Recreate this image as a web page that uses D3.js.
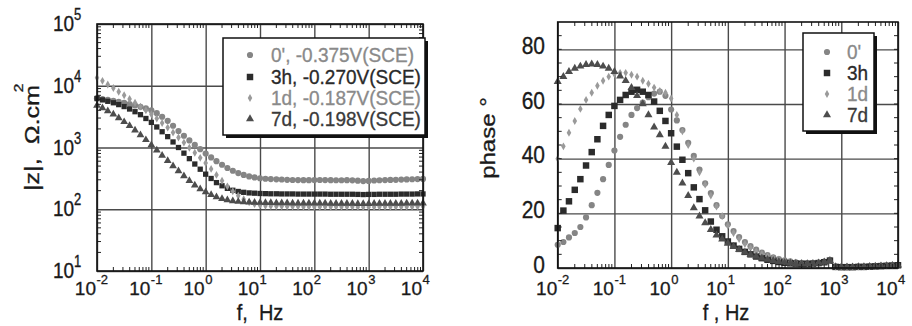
<!DOCTYPE html>
<html>
<head>
<meta charset="utf-8">
<script src="https://cdn.jsdelivr.net/npm/d3@7"></script>
<style>
  body { margin: 0; background: #fff; }
  svg { font-family: "Liberation Sans", Arial, sans-serif; }
</style>
</head>
<body>
<svg id="chart" width="912" height="326"></svg>
<script>
// frequencies, Hz (10 per decade)
const freq = [0.01, 0.0126, 0.0158, 0.02, 0.0251, 0.0316, 0.0398, 0.0501, 0.0631, 0.0794,
  0.1, 0.126, 0.158, 0.2, 0.251, 0.316, 0.398, 0.501, 0.631, 0.794,
  1, 1.26, 1.58, 2, 2.51, 3.16, 3.98, 5.01, 6.31, 7.94,
  10, 12.6, 15.8, 20, 25.1, 31.6, 39.8, 50.1, 63.1, 79.4,
  100, 126, 158, 200, 251, 316, 398, 501, 631, 794,
  1000, 1260, 1580, 2000, 2510, 3160, 3980, 5010, 6310, 7940, 10000];

// |z|, ohm.cm2
const mag0 = [6300, 6100, 5900, 5700, 5500, 5300, 5050, 4800, 4550, 4300,
  4000, 3600, 3150, 2700, 2250, 1850, 1550, 1300, 1100, 940,
  800, 690, 600, 525, 465, 420, 385, 360, 340, 328,
  318, 312, 308, 305, 303, 300, 298, 297, 296, 296,
  297, 298, 297, 296, 295, 295, 296, 294, 290, 286,
  288, 292, 295, 297, 299, 300, 302, 304, 306, 308, 310];
const mag3h = [6200, 5900, 5600, 5300, 4950, 4600, 4200, 3800, 3400, 2950,
  2550, 2150, 1800, 1500, 1230, 1000, 810, 660, 540, 445,
  370, 315, 270, 240, 218, 203, 194, 188, 184, 182,
  180, 179, 178, 178, 177, 177, 177, 176, 176, 176,
  176, 176, 176, 175, 175, 175, 175, 175, 174, 173,
  174, 174, 175, 175, 175, 175, 176, 176, 176, 177, 177];
const mag1d = [13500, 12000, 10500, 9200, 8000, 7000, 6100, 5300, 4600, 4000,
  3450, 2950, 2500, 2100, 1750, 1450, 1200, 990, 820, 680,
  560, 450, 360, 290, 235, 195, 165, 145, 130, 121,
  116, 114, 113, 112, 112, 111, 111, 111, 110, 110,
  110, 110, 110, 110, 110, 110, 110, 110, 109, 109,
  109, 109, 110, 110, 110, 110, 110, 110, 110, 111, 111];
const mag7d = [4800, 4350, 3900, 3450, 3000, 2600, 2250, 1900, 1600, 1330,
  1100, 900, 740, 610, 500, 415, 345, 290, 245, 212,
  190, 172, 158, 148, 141, 136, 133, 131, 130, 129,
  128, 127, 127, 126, 126, 126, 125, 125, 125, 125,
  125, 125, 125, 124, 124, 124, 124, 124, 123, 123,
  123, 124, 124, 124, 124, 124, 124, 125, 125, 125, 125];

// phase, degrees
const ph0 = [8.5, 9.5, 11.2, 12.8, 15, 18.5, 23, 27.5, 32.5, 37.7,
  43, 48, 52.4, 56, 58.5, 60.5, 62.5, 63.8, 64.5, 63,
  58, 54, 50.5, 45.8, 41, 36, 31, 27.4, 23, 19,
  16, 13.5, 11.3, 9.5, 8, 6.7, 5.6, 4.7, 3.9, 3.3,
  2.8, 2.4, 2.1, 1.9, 1.8, 1.8, 2.0, 2.3, 2.9, 0.5,
  0.4, 0.4, 0.4, 0.5, 0.5, 0.6, 0.7, 0.8, 0.9, 1.0, 1.1];
const ph3h = [14.6, 21, 24.4, 28.6, 32.5, 37.5, 42.4, 47.1, 52, 56,
  59.3, 61.5, 63.3, 64.5, 65.2, 64.5, 63.3, 60.9, 57.5, 53.8,
  49.3, 44.4, 39.6, 34.7, 29.5, 25.2, 21.1, 17, 14, 11.6,
  9.7, 8.2, 7, 5.9, 5, 4.2, 3.6, 3, 2.6, 2.2,
  1.9, 1.7, 1.6, 1.5, 1.5, 1.6, 1.8, 2.1, 2.7, 0.4,
  0.3, 0.3, 0.3, 0.4, 0.4, 0.5, 0.6, 0.7, 0.8, 0.9, 1.0];
const ph1d = [40, 44.5, 49.5, 53.8, 58.2, 61.5, 64.1, 66.7, 68.5, 70,
  71, 71.4, 71.4, 70.7, 70, 68.5, 67.4, 66, 64.8, 64.1,
  62, 56, 50, 45, 40, 35, 30.5, 26.5, 22.5, 19,
  15.5, 12.8, 10.6, 8.8, 7.3, 6.1, 5.1, 4.3, 3.6, 3.1,
  2.6, 2.2, 2.0, 1.8, 1.7, 1.7, 1.9, 2.2, 2.8, 0.5,
  0.4, 0.4, 0.4, 0.5, 0.5, 0.6, 0.7, 0.8, 0.9, 1.0, 1.0];
const ph7d = [68.2, 70, 71.8, 73, 73.8, 74.4, 74.6, 74.4, 73.8, 73,
  71.8, 70.2, 68.5, 66, 63, 60, 56, 51.5, 48.7, 44.5,
  38.5, 35, 31, 26.5, 22, 19, 16.5, 14, 12, 10.5,
  9, 7.8, 6.7, 5.7, 4.9, 4.2, 3.6, 3.1, 2.7, 2.3,
  2.0, 1.8, 1.6, 1.5, 1.5, 1.6, 1.8, 2.1, 2.7, 0.4,
  0.3, 0.3, 0.3, 0.4, 0.4, 0.5, 0.6, 0.7, 0.8, 0.9, 1.0];

const labelsLeft = ["0', -0.375V(SCE)", "3h, -0.270V(SCE)", "1d, -0.187V(SCE)", "7d, -0.198V(SCE)"];
const labelsRight = ["0'", "3h", "1d", "7d"];
const xDecades = [-2, -1, 0, 1, 2, 3, 4];
const yDecades = [1, 2, 3, 4, 5];
const phaseTicks = [0, 20, 40, 60, 80];

const series = [
  { mag: mag0, ph: ph0, type: d3.symbolCircle, color: '#858585', text: '#8a8a8a', sL: 30, sR: 30 },
  { mag: mag3h, ph: ph3h, type: d3.symbolSquare, color: '#2b2b2b', text: '#2a2a2a', sL: 28, sR: 42 },
  { mag: mag1d, ph: ph1d, type: d3.symbolDiamond, color: '#9a9a9a', text: '#8a8a8a', sL: 18, sR: 18 },
  { mag: mag7d, ph: ph7d, type: d3.symbolTriangle, color: '#4d4d4d', text: '#3a3a3a', sL: 26, sR: 28 }
];

const svg = d3.select('#chart');

// text stretched vertically like the scanned figure
function txt(g, x, y, s, size, anchor, fill, rot, sy) {
  const k = sy || 1.2;
  const w = g.append('g')
    .attr('transform', `translate(${x},${y}) scale(1,${k})` + (rot ? ` rotate(${rot})` : ''));
  return w.append('text')
    .attr('text-anchor', anchor)
    .attr('font-size', size)
    .attr('fill', fill || '#1a1a1a')
    .attr('stroke', fill || '#1a1a1a')
    .attr('stroke-width', 0.3)
    .style('white-space', 'pre')
    .text(s);
}

function minorLog(lo, hi) {
  const out = [];
  for (let d = lo; d < hi; d++) for (let k = 2; k <= 9; k++) out.push(k * Math.pow(10, d));
  return out;
}

function frameAndTicks(g, x, y, xMinor, yMinor) {
  const [x0, x1] = x.range(), [y0, y1] = y.range();
  // minor ticks, inward on all sides
  const t = g.append('g').attr('stroke', '#222').attr('stroke-width', 1);
  xMinor.forEach(v => {
    t.append('line').attr('x1', x(v)).attr('x2', x(v)).attr('y1', y0).attr('y2', y0 - 4);
    t.append('line').attr('x1', x(v)).attr('x2', x(v)).attr('y1', y1).attr('y2', y1 + 4);
  });
  yMinor.forEach(v => {
    t.append('line').attr('y1', y(v)).attr('y2', y(v)).attr('x1', x0).attr('x2', x0 + 4);
    t.append('line').attr('y1', y(v)).attr('y2', y(v)).attr('x1', x1).attr('x2', x1 - 4);
  });
  g.append('rect')
    .attr('x', x0).attr('y', y1).attr('width', x1 - x0).attr('height', y0 - y1)
    .attr('fill', 'none').attr('stroke', '#111').attr('stroke-width', 1.6);
}

function legend(g, bx, by, bw, bh, symX, textX, rowY, labels) {
  g.append('rect').attr('x', bx + 3).attr('y', by + 3).attr('width', bw).attr('height', bh).attr('fill', '#111');
  g.append('rect').attr('x', bx).attr('y', by).attr('width', bw).attr('height', bh)
    .attr('fill', '#fff').attr('stroke', '#111').attr('stroke-width', 1.5);
  series.forEach((s, i) => {
    g.append('path')
      .attr('d', d3.symbol().type(s.type).size(s.sR)())
      .attr('transform', `translate(${symX},${rowY[i]})`)
      .attr('fill', s.color);
    txt(g, textX, rowY[i] + 6.5, labels[i], 19, 'start', s.text, 0, 1.08);
  });
}

function grid(g, x, y) {
  const [x0, x1] = x.range(), [y0, y1] = y.range();
  g.append('g').attr('transform', `translate(0,${y0})`)
    .call(d3.axisBottom(x).tickValues(xDecades.map(d => Math.pow(10, d))).tickSize(y1 - y0).tickFormat(''))
    .call(a => a.select('.domain').remove())
    .call(a => a.selectAll('line').attr('stroke', '#4a4a4a').attr('stroke-width', 1.4));
}

// ---------- left: |z| vs f ----------
const gL = svg.append('g');
const xL = d3.scaleLog().domain([0.01, 1e4]).range([97, 423]);
const yL = d3.scaleLog().domain([10, 1e5]).range([271, 24]);

grid(gL, xL, yL);
gL.append('g').attr('transform', 'translate(97,0)')
  .call(d3.axisLeft(yL).tickValues(yDecades.map(d => Math.pow(10, d))).tickSize(-326).tickFormat(''))
  .call(a => a.select('.domain').remove())
  .call(a => a.selectAll('line').attr('stroke', '#4a4a4a').attr('stroke-width', 1.4));

series.forEach(s => {
  gL.append('g').selectAll('path').data(freq).join('path')
    .attr('d', d3.symbol().type(s.type).size(s.sL)())
    .attr('transform', (f, i) => `translate(${xL(f)},${yL(s.mag[i])})`)
    .attr('fill', s.color);
});

frameAndTicks(gL, xL, yL, minorLog(-2, 4), minorLog(1, 5));

xDecades.forEach(d => {
  const px = xL(Math.pow(10, d));
  txt(gL, px - 1, 295, '10', 19, 'end', null, 0, 1);
  txt(gL, px - 0.5, 284, String(d), 13, 'start', null, 0, 1);
});
yDecades.forEach(d => {
  const py = yL(Math.pow(10, d));
  txt(gL, 74, py + 7, '10', 19, 'end');
  txt(gL, 74, py - 4, String(d), 13, 'start');
});
txt(gL, 260, 320, 'f,  Hz', 20, 'middle', null, 0, 1.1);
txt(gL, 39, 138, '|z|,  \u03a9.cm', 21, 'middle', null, -90);
txt(gL, 23, 88, '2', 13, 'middle', null, -90);

legend(gL, 223, 38, 202, 97, 250, 271, [55, 77, 98, 119], labelsLeft);

// ---------- right: phase vs f ----------
const gR = svg.append('g');
const xR = d3.scaleLog().domain([0.01, 1e4]).range([557.7, 898]);
const yR = d3.scaleLinear().domain([0, 90]).range([268, 22]);

grid(gR, xR, yR);
gR.append('g').attr('transform', 'translate(557.7,0)')
  .call(d3.axisLeft(yR).tickValues(phaseTicks).tickSize(-340.3).tickFormat(''))
  .call(a => a.select('.domain').remove())
  .call(a => a.selectAll('line').attr('stroke', '#4a4a4a').attr('stroke-width', 1.4));

series.forEach(s => {
  gR.append('g').selectAll('path').data(freq).join('path')
    .attr('d', d3.symbol().type(s.type).size(s.sR)())
    .attr('transform', (f, i) => `translate(${xR(f)},${yR(s.ph[i])})`)
    .attr('fill', s.color);
});

frameAndTicks(gR, xR, yR, minorLog(-2, 4), d3.range(5, 90, 5));

xDecades.forEach(d => {
  const px = xR(Math.pow(10, d));
  txt(gR, px - 0.5, 295, '10', 19, 'end', null, 0, 1);
  txt(gR, px, 284, String(d), 13, 'start', null, 0, 1);
});
phaseTicks.forEach(v => {
  txt(gR, 545, yR(v) + 4.5, String(v), 21, 'end', null, 0, 1.12);
});
txt(gR, 726, 320, 'f , Hz', 20, 'middle', null, 0, 1.1);
txt(gR, 495, 138, 'phase \u00b0', 20, 'middle', null, -90);

legend(gR, 803, 33, 71, 98, 827, 847, [52, 73, 94, 115], labelsRight);
</script>
</body>
</html>
